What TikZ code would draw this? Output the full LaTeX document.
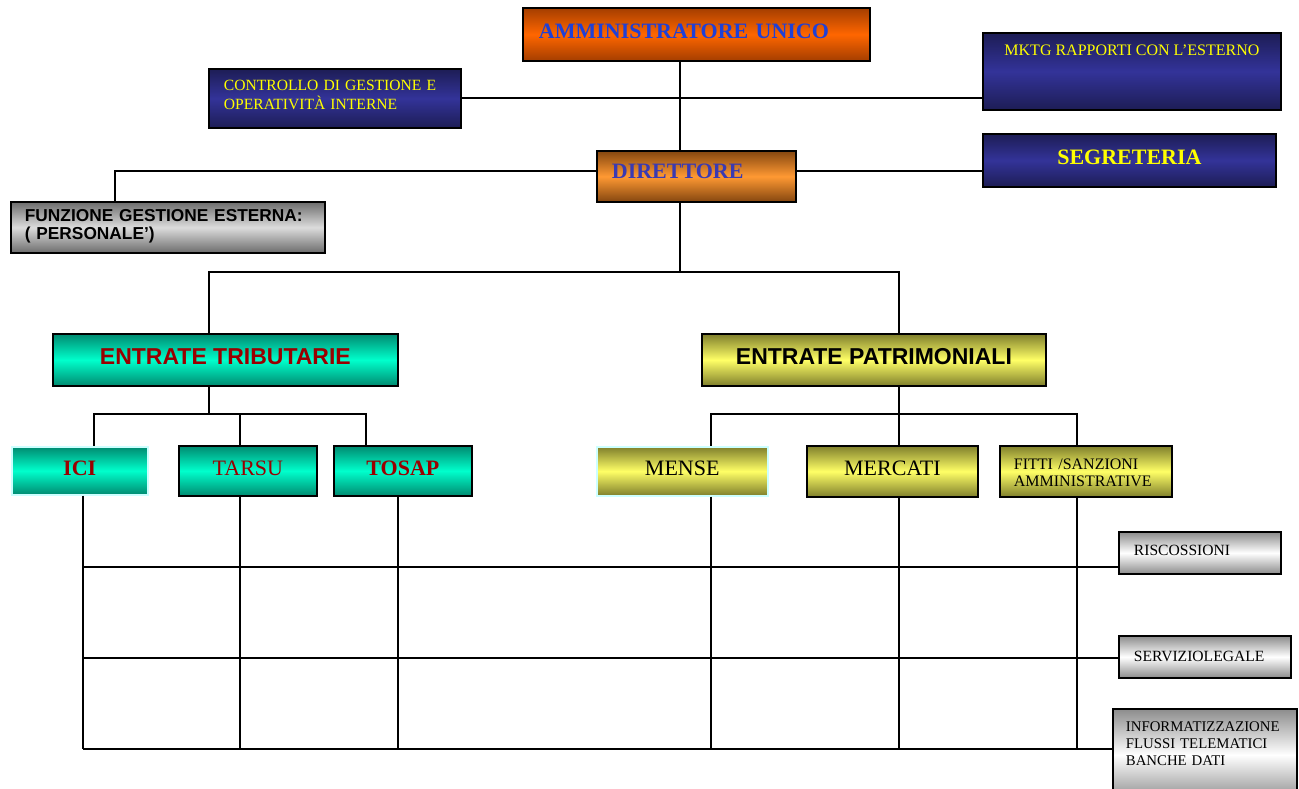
\documentclass[tikz,border=0pt]{standalone}
\usepackage{fontspec}
\setmainfont{Liberation Serif}
\newfontfamily\tahoma{Liberation Sans}
% colori delle caselle
\definecolor{ambrdark}{HTML}{A43E00}
\definecolor{ambrmid}{HTML}{FF6600}
\definecolor{dirdark}{HTML}{84460F}
\definecolor{dirmid}{HTML}{FF9933}
\definecolor{navydark}{HTML}{1D1D55}
\definecolor{navymid}{HTML}{333399}
\definecolor{tealdark}{HTML}{008A70}
\definecolor{tealmid}{HTML}{00FFCC}
\definecolor{olivedark}{HTML}{7F7F2C}
\definecolor{olivemid}{HTML}{FFFF66}
\definecolor{greydark}{HTML}{6C6C6C}
\definecolor{greymid}{HTML}{DCDCDC}
\definecolor{silvdark}{HTML}{8C8C8C}
\definecolor{paleedge}{HTML}{CCFFFF}
% colori dei testi
\definecolor{txtblue}{HTML}{1F40D6}
\definecolor{txtviolet}{HTML}{3A3AB2}
\definecolor{txtyellow}{HTML}{FFFF00}
\definecolor{txtred}{HTML}{990000}
\tikzset{
  wire/.style={line width=1.8pt},
  box/.style={draw=black, line width=1.8pt, anchor=north west, inner ysep=0pt, align=left},
  ambox/.style={box, top color=ambrdark, bottom color=ambrdark, middle color=ambrmid},
  dirbox/.style={box, top color=dirdark, bottom color=dirdark, middle color=dirmid},
  navybox/.style={box, top color=navydark, bottom color=navydark, middle color=navymid, text=txtyellow},
  tealbox/.style={box, top color=tealdark, bottom color=tealdark, middle color=tealmid, text=txtred},
  olivebox/.style={box, top color=olivedark, bottom color=olivedark, middle color=olivemid},
  greybox/.style={box, top color=greydark, bottom color=greydark, middle color=greymid},
  silvbox/.style={box, top color=silvdark, bottom color=silvdark, middle color=white},
  pale/.style={draw=paleedge, line width=1.5pt},
  bigserif/.style={font=\fontsize{22}{26}\selectfont},
  bigbold/.style={font=\fontsize{22}{26}\selectfont\bfseries},
  bigsans/.style={font=\tahoma\fontsize{23}{27}\selectfont\bfseries},
  smallserif/.style={font=\fontsize{15.6}{17}\selectfont}
}
\begin{document}
\begin{tikzpicture}[x=1pt, y=-1pt]
\useasboundingbox (0,0) rectangle (1299,789);
% vertice
\node[ambox, minimum width=347pt, minimum height=53pt, inner xsep=16pt, text width=315pt,
  text depth=7pt, bigbold, text=txtblue] (amm) at (522,7) {AMMINISTRATORE UNICO};
\node[navybox, minimum width=252pt, minimum height=59pt, inner xsep=15pt, text width=222pt,
  text depth=27pt, font=\fontsize{15.6}{19}\selectfont] (ctrl) at (208,68)
  {CONTROLLO DI GESTIONE E\\OPERATIVIT\`A INTERNE};
\node[navybox, minimum width=298pt, minimum height=77pt, align=center,
  text depth=43pt, font=\fontsize{16}{19}\selectfont] (mktg) at (982,32) {MKTG RAPPORTI CON L’ESTERNO};
\node[dirbox, minimum width=199pt, minimum height=51pt, inner xsep=15pt, text width=169pt,
  text depth=10pt, bigbold, text=txtviolet] (dir) at (596,150) {DIRETTORE};
\node[navybox, minimum width=293pt, minimum height=53pt, align=center,
  text depth=7pt, bigbold] (seg) at (982,133) {SEGRETERIA};
\node[greybox, minimum width=314pt, minimum height=51pt, inner xsep=14pt, text width=286pt,
  text depth=24pt, font=\tahoma\fontsize{17.3}{18}\selectfont\bfseries] (fun) at (10,201)
  {FUNZIONE GESTIONE ESTERNA:\\( PERSONALE’)};
% aree
\node[tealbox, minimum width=345pt, minimum height=52pt, align=center,
  text depth=7pt, bigsans] (etrib) at (52,333) {ENTRATE TRIBUTARIE};
\node[olivebox, minimum width=344pt, minimum height=52pt, align=center,
  text depth=7pt, bigsans] (epat) at (701,333) {ENTRATE PATRIMONIALI};
% uffici
\node[tealbox, pale, minimum width=136pt, minimum height=48pt, align=center,
  text depth=6pt, bigbold] (ici) at (11,446) {ICI};
\node[tealbox, minimum width=138pt, minimum height=50pt, align=center,
  text depth=6pt, bigserif] (tarsu) at (178,445) {TARSU};
\node[tealbox, minimum width=138pt, minimum height=50pt, align=center,
  text depth=6pt, bigbold] (tosap) at (333,445) {TOSAP};
\node[olivebox, pale, minimum width=171pt, minimum height=49pt, align=center,
  text depth=6pt, bigserif] (mense) at (596,446) {MENSE};
\node[olivebox, minimum width=171pt, minimum height=51pt, align=center,
  text depth=6pt, bigserif] (merc) at (806,445) {MERCATI};
\node[olivebox, minimum width=172pt, minimum height=51pt, inner xsep=14pt, text width=144pt,
  text depth=15pt, font=\fontsize{16}{17}\selectfont] (fitti) at (999,445)
  {FITTI /SANZIONI\\AMMINISTRATIVE};
% servizi trasversali
\node[silvbox, minimum width=162pt, minimum height=42pt, inner xsep=15pt, text width=132pt,
  text depth=5pt, smallserif] (risc) at (1118,531) {RISCOSSIONI};
\node[silvbox, minimum width=172pt, minimum height=42pt, inner xsep=15pt, text width=142pt,
  text depth=2pt, smallserif] (serv) at (1118,635) {SERVIZIOLEGALE};
\node[silvbox, minimum width=184pt, minimum height=92pt, inner xsep=13pt, text width=158pt,
  text depth=56pt, font=\fontsize{14.8}{17}\selectfont] (info) at (1112,708)
  {INFORMATIZZAZIONE\\FLUSSI TELEMATICI\\BANCHE DATI};
% punti di snodo
\coordinate (tx) at (680,0);
\coordinate (dl) at (115,171);
\coordinate (b1) at (0,272);
\coordinate (lt) at (209,0);
\coordinate (rt) at (899,0);
\coordinate (b2) at (0,414);
\coordinate (gl) at (83,0);
\coordinate (g1) at (0,567);
\coordinate (g2) at (0,658);
\coordinate (g3) at (0,749);
\foreach \n/\xt/\xb in {ici/94/83,tarsu/240/240,tosap/366/398,mense/711/711,merc/899/899,fitti/1077/1077}
{
  \coordinate (t\n) at (\xt,0);
  \coordinate (b\n) at (\xb,0);
}
% collegamenti
\draw[wire] (amm.south -| tx) -- (dir.north -| tx);
\draw[wire] (ctrl.east) -- (mktg.west |- ctrl.east);
\draw[wire] (fun.north -| dl) |- (dir.west |- dl);
\draw[wire] (dir.east |- dl) -- (seg.west |- dl);
\draw[wire] (dir.south -| tx) -- (tx |- b1);
\draw[wire] (etrib.north -| lt) |- (tx |- b1) -| (epat.north -| rt);
\foreach \n in {ici,tarsu,tosap}
  \draw[wire] (etrib.south -| lt) |- (t\n |- b2) -- (\n.north -| t\n);
\foreach \n in {mense,merc,fitti}
  \draw[wire] (epat.south -| rt) |- (t\n |- b2) -- (\n.north -| t\n);
\foreach \n in {ici,tarsu,tosap,mense,merc,fitti}
  \draw[wire] (\n.south -| b\n) -- (b\n |- g3);
\draw[wire] (gl |- g1) -- (risc.west |- g1);
\draw[wire] (gl |- g2) -- (serv.west |- g2);
\draw[wire] (gl |- g3) -- (info.west |- g3);
\end{tikzpicture}
\end{document}
